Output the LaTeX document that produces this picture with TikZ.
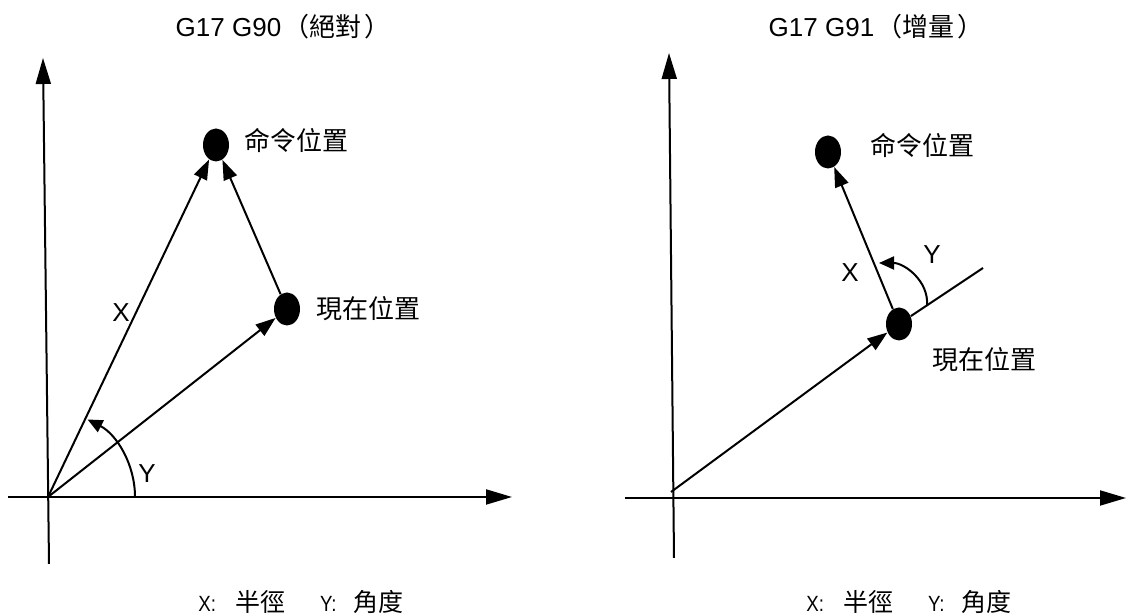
\documentclass[tikz,border=0pt]{standalone}
\usepackage{fontspec}
\setmainfont{Liberation Sans}
\newfontfamily\cjk{Noto Sans CJK TC}
\usetikzlibrary{arrows.meta,positioning,shapes.geometric}
\newcommand{\hanzi}[1]{{\cjk\fontsize{12.5pt}{15pt}\selectfont #1}}
\newcommand{\keytxt}[1]{\scalebox{0.85}[1]{#1}}

\begin{document}
\begin{tikzpicture}[x=0.5pt, y=0.5pt, every node/.style={font=\fontsize{13pt}{15pt}\selectfont, inner sep=0pt},
  dot/.style={ellipse, fill=black, minimum width=13pt, minimum height=16.5pt},
  axis/.style={line width=1pt, -{Triangle[length=13pt,width=7.5pt]}},
  vec/.style={line width=1pt, -{Triangle[length=10pt,width=7pt]}},
  ang/.style={line width=1pt, -{Triangle[length=7.5pt,width=6.5pt]}},
  poslbl/.style={font=\cjk\fontsize{13pt}{15pt}\selectfont},
  note/.style={font=\fontsize{11pt}{13pt}\selectfont}]
\useasboundingbox (0,0) rectangle (1126,614);

% G90 absolute
\node (titleA) at (283,587) {G17 G90\hspace{1pt}{\cjk（絕對\hspace{1.5pt}）}};
\coordinate (oA) at (48,117);
\coordinate (xaA0) at (8,117);
\coordinate (xaA1) at (512,117);
\coordinate (yaA0) at (49,50);
\coordinate (yaA1) at (43,556);
\draw[axis] (xaA0) -- (xaA1);
\draw[axis] (yaA0) -- (yaA1);
\node[dot] (cmdA) at (216,469) {};
\node[dot] (curA) at (287,305) {};
\node[poslbl, right=7.5pt of cmdA, yshift=2.5pt] (cmdAlbl) {命令位置};
\node[poslbl, right=8pt of curA] (curAlbl) {現在位置};
\draw[vec] (oA) -- (cmdA);
\draw[vec] (oA) -- (curA);
\draw[vec] (curA) -- (cmdA);
\draw[ang] ([xshift=43.5pt]oA) arc[start angle=0, end angle=63, radius=87];
\node (xA) at (121,301) {X};
\node (yA) at (147,140) {Y};
\node[note] (keyA) at (301,12) {\keytxt{X:}\hspace{9.5pt}\hanzi{半徑}\hspace{17.5pt}\keytxt{Y:}\hspace{8.5pt}\hanzi{角度}};

% G91 incremental
\node (titleB) at (876,587) {G17 G91\hspace{1pt}{\cjk（增量\hspace{1.5pt}）}};
\coordinate (oB) at (671,122);
\coordinate (xaB0) at (625,116);
\coordinate (xaB1) at (1126,116);
\coordinate (yaB0) at (674,56);
\coordinate (yaB1) at (669,561);
\draw[axis] (xaB0) -- (xaB1);
\draw[axis] (yaB0) -- (yaB1);
\node[dot] (cmdB) at (828,462) {};
\node[dot] (curB) at (899,290) {};
\node[poslbl, right=14.5pt of cmdB, yshift=3.5pt] (cmdBlbl) {命令位置};
\node[poslbl, below right=5.5pt and 12pt of curB] (curBlbl) {現在位置};
\coordinate (extB) at (983,346);
\draw[vec] (oB) -- (curB);
\draw[line width=1pt] (curB) -- (extB);
\draw[vec] (curB) -- (cmdB);
\coordinate (arcB) at (927,308);
\coordinate (tipB) at (879,351);
\draw[ang] (arcB) to[out=85, in=0] (tipB);
\node (xB) at (850,341) {X};
\node (yB) at (932,359) {Y};
\node[note] (keyB) at (909,12) {\keytxt{X:}\hspace{9.5pt}\hanzi{半徑}\hspace{17.5pt}\keytxt{Y:}\hspace{8.5pt}\hanzi{角度}};
\end{tikzpicture}
\end{document}
